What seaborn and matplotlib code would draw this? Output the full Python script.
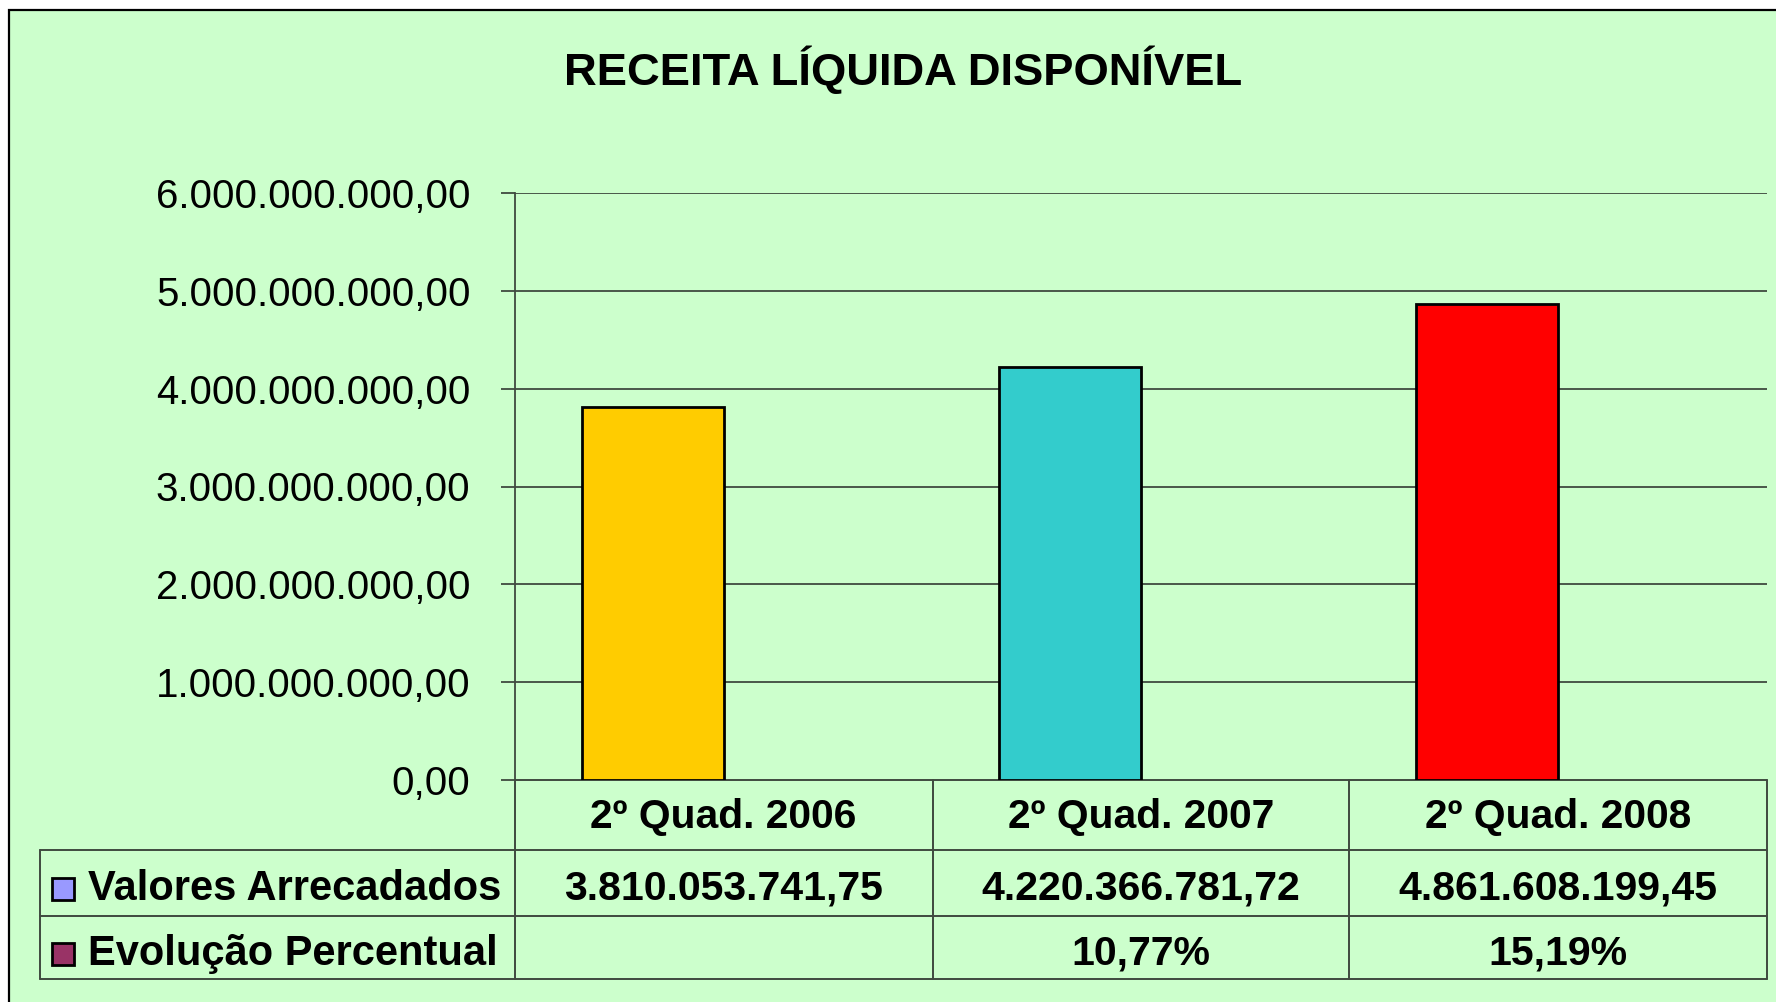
import matplotlib
matplotlib.use("Agg")
import matplotlib.pyplot as plt
import seaborn as sns
import pandas as pd
from matplotlib.patches import Rectangle
from matplotlib.lines import Line2D

# ---- data ----
categories = ["2º Quad. 2006", "2º Quad. 2007", "2º Quad. 2008"]
valores = [3810053741.75, 4220366781.72, 4861608199.45]
evolucao_frac = [0.0, 0.1077, 0.1519]
evolucao = ["", "10,77%", "15,19%"]
row_labels = ["Valores Arrecadados", "Evolução Percentual"]
yticks = [0, 1e9, 2e9, 3e9, 4e9, 5e9, 6e9]
title = "RECEITA LÍQUIDA DISPONÍVEL"
bar_colors = ["#FFCC00", "#33CCCC", "#FF0000"]
legend_colors = ["#9999FF", "#993366"]


def br(v):
    s = f"{v:,.2f}"
    return s.replace(",", "X").replace(".", ",").replace("X", ".")


sns.set_theme(style="white")
plt.rcParams["font.family"] = ["Liberation Sans", "DejaVu Sans"]
plt.rcParams["text.color"] = "black"
plt.rcParams["ytick.color"] = "black"
plt.rcParams["xtick.color"] = "black"

W, H = 1776, 1002
fig = plt.figure(figsize=(W / 100, H / 100), dpi=100, facecolor="white")


def fx(px):
    return px / W


def fy(py):
    return 1 - py / H


# outer chart area
bg = "#CCFFCC"
fig.patches.append(Rectangle((fx(9), -0.05), 1.2, fy(10) + 0.05, transform=fig.transFigure,
                             facecolor=bg, edgecolor="black", linewidth=1.6, zorder=-10))

ax_l, ax_r, ax_t, ax_b = 515, 1767, 193, 780
ax = fig.add_axes([fx(ax_l), fy(ax_b), fx(ax_r) - fx(ax_l), fy(ax_t) - fy(ax_b)])
ax.set_facecolor("none")
ax.set_zorder(2)

df = pd.DataFrame({
    "cat": categories * 2,
    "val": valores + evolucao_frac,
    "serie": [row_labels[0]] * 3 + [row_labels[1]] * 3,
})
sns.barplot(data=df, x="cat", y="val", hue="serie", hue_order=row_labels,
            palette=legend_colors, width=0.68, dodge=True,
            edgecolor="black", linewidth=2, legend=False, ax=ax, zorder=3, saturation=1)

# Excel "vary colours by point" for the first series; second series invisible at this scale
bars = [p for p in ax.patches]
for k, p in enumerate(bars):
    if k < len(categories):
        p.set_facecolor(bar_colors[k])
    else:
        p.set_edgecolor("none")

ax.set_xlim(-0.5, 2.5)
ax.set_ylim(0, 6e9)
ax.set_yticks(yticks)
ax.set_yticklabels([br(v) for v in yticks], fontsize=29, color="black")
ax.set_xticks([])
ax.set_xlabel("")
ax.set_ylabel("")
for y in yticks[1:]:
    ax.axhline(y, color="#3f4a3f", linewidth=1.3, zorder=1)
for s in ["top", "right", "bottom"]:
    ax.spines[s].set_visible(False)
ax.spines["left"].set_color("#3f4a3f")
ax.spines["left"].set_linewidth(1.3)
ax.tick_params(axis="y", direction="out", length=10, width=1.3, color="#3f4a3f",
               labelcolor="black", pad=22, left=True)

fig.text(fx(903), fy(70), title, ha="center", va="center", fontsize=32.7, fontweight="bold",
         color="black")

# ---- data table ----
lc = "#3f4a3f"
lw = 1.4
col_x = [515, 933, 1349, 1767]
row_y = [780, 850, 916, 979]
leg_left = 40


def hline(x0, x1, y):
    fig.add_artist(Line2D([fx(x0), fx(x1)], [fy(y), fy(y)], color=lc, linewidth=lw,
                          transform=fig.transFigure))


def vline(x, y0, y1):
    fig.add_artist(Line2D([fx(x), fx(x)], [fy(y0), fy(y1)], color=lc, linewidth=lw,
                          transform=fig.transFigure))


hline(col_x[0], col_x[-1], row_y[0])
for y in row_y[1:]:
    hline(leg_left, col_x[-1], y)
for x in col_x:
    vline(x, row_y[0], row_y[-1])
vline(leg_left, row_y[1], row_y[-1])

trans = ax.get_xaxis_transform()
axh = ax_b - ax_t


def ay(py):
    return (ax_b - py) / axh


row_centers = [(row_y[0] + row_y[1]) / 2 + 2,
               (row_y[1] + row_y[2]) / 2 + 6,
               (row_y[2] + row_y[3]) / 2 + 6]
for i, cat in enumerate(categories):
    ax.text(i, ay(row_centers[0]), cat, transform=trans, ha="center", va="center",
            fontsize=29.3, fontweight="bold", clip_on=False, color="black")
    ax.text(i, ay(row_centers[1]), br(valores[i]), transform=trans, ha="center", va="center",
            fontsize=29.5, fontweight="bold", clip_on=False, color="black")
    if evolucao[i]:
        ax.text(i, ay(row_centers[2]), evolucao[i], transform=trans, ha="center", va="center",
                fontsize=29.5, fontweight="bold", clip_on=False, color="black")

for j, (lab, col) in enumerate(zip(row_labels, legend_colors)):
    yc = row_centers[j + 1]
    sz = 22
    fig.patches.append(Rectangle((fx(52), fy(yc + sz / 2)), fx(sz), sz / H,
                                 transform=fig.transFigure, facecolor=col,
                                 edgecolor="black", linewidth=2))
    fig.text(fx(88), fy(yc), lab, ha="left", va="center", fontsize=30, fontweight="bold",
             color="black")

fig.savefig("out.png", dpi=100, facecolor=fig.get_facecolor())
